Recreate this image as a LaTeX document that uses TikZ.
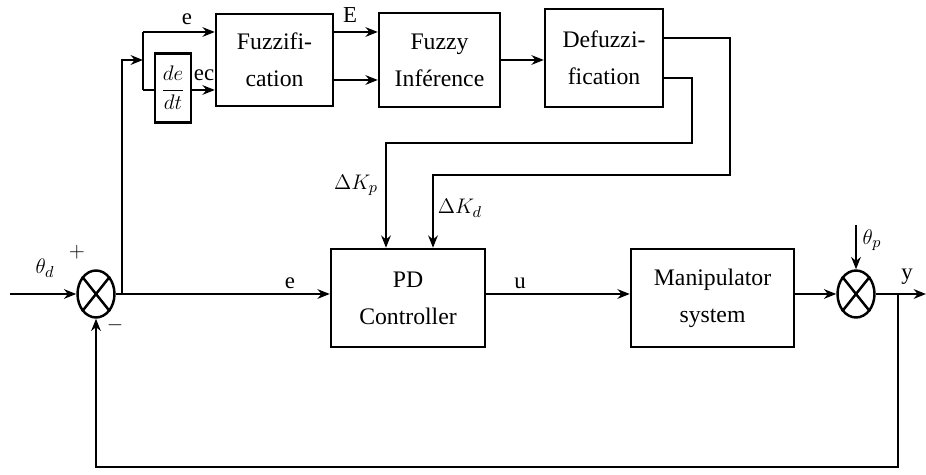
\documentclass[tikz,border=0pt]{standalone}
\usepackage{amsmath}
\usepackage{fontspec}
\setmainfont{Liberation Serif}
\usetikzlibrary{arrows.meta, positioning, shapes.geometric}

\begin{document}
\begin{tikzpicture}[
    x=0.02cm, y=-0.02cm,
    >={Stealth[length=7pt, width=5.5pt]},
    line width=1.4pt,
    block/.style={
      draw, line width=1.4pt, align=center,
      font=\rmfamily\fontsize{13.5}{21}\selectfont, inner sep=2pt
    },
    summer/.style={
      draw, ellipse, line width=1.4pt, inner sep=0pt,
      minimum width=0.74cm, minimum height=0.94cm
    },
    lbl/.style={font=\rmfamily\fontsize{13}{15}\selectfont, inner sep=1pt}
  ]
  \useasboundingbox (0,0) rectangle (926,475);

  % fuzzy part
  \node[block, minimum width=2.34cm, minimum height=1.84cm] (fuzz) at (274.5,60) {Fuzzifi-\\cation};
  \node[block, minimum width=0.72cm, minimum height=1.38cm, inner sep=0pt,
    font=\fontsize{11.5}{13}\selectfont] (ddt) at (173,88) {$\dfrac{de}{dt}$};
  \node[block, minimum width=2.42cm, minimum height=1.88cm] (inf) at (439.5,60) {Fuzzy\\Inf\'erence};
  \node[block, minimum width=2.36cm, minimum height=1.96cm] (defz) at (604,58) {Defuzzi-\\fication};

  % main loop
  \node[block, minimum width=3.08cm, minimum height=1.96cm] (pd) at (408,298) {PD\\Controller};
  \node[block, minimum width=3.26cm, minimum height=1.96cm] (man) at (712.5,298) {Manipulator\\system};
  \node[summer] (sum1) at (96,294) {};
  \node[summer] (sum2) at (856,294) {};
  \draw (sum1.north east) -- (sum1.south west) (sum1.north west) -- (sum1.south east);
  \draw (sum2.north east) -- (sum2.south west) (sum2.north west) -- (sum2.south east);

  \coordinate (in) at (10,294);
  \coordinate (out) at (926,294);
  \coordinate (tp) at (856,225);
  \coordinate (b1) at (122,294);
  \coordinate (b2) at (143,60);
  \coordinate (b3) at (143,32);
  \coordinate (b4) at (143,90);
  \coordinate (fb) at (898,294);

  \draw[->] (in) -- (sum1.west);
  \draw[->] (sum1.east) -- (pd.west |- sum1.east);
  \draw[->] (pd.east |- sum1.east) -- (man.west |- sum1.east);
  \draw[->] (man.east |- sum1.east) -- (sum2.west);
  \draw[->] (sum2.east) -- (out);
  \draw[->] (tp) -- (sum2.north);
  \draw[->] (fb) -- (898,467) -| (sum1.south);

  % error and derivative
  \draw[->] (b1) |- (b2);
  \draw (b3) -- (b4);
  \draw[->] (b3) -- (fuzz.west |- b3);
  \draw (b4) -- (ddt.west |- b4);
  \draw[->] (ddt.east |- b4) -- (fuzz.west |- b4);
  \draw[->] (fuzz.east |- b3) -- (inf.west |- b3);
  \draw[->] (fuzz.east |- 0,80) -- (inf.west |- 0,80);
  \draw[->] (inf.east |- 0,60) -- (defz.west |- 0,60);

  % gain corrections
  \draw[->] (defz.east |- 0,38) -| (730,175) -| (pd.north -| 433,0);
  \draw[->] (defz.east |- 0,78) -| (692,143) -| (pd.north -| 386,0);

  % labels
  \node[lbl] (lthd) at (45,268) {$\theta_d$};
  \node[lbl] (lplus) at (77,252) {$+$};
  \node[lbl] (lminus) at (115,325) {$-$};
  \node[lbl] (le1) at (187,19) {e};
  \node[lbl] (lec) at (204,75) {ec};
  \node[lbl] (lE) at (350,15) {E};
  \node[lbl] (le2) at (290,283) {e};
  \node[lbl] (lu) at (520,283) {u};
  \node[lbl] (lthp) at (872,240) {$\theta_p$};
  \node[lbl] (ly) at (907,277) {y};
  \node[lbl, font=\fontsize{13}{15}\selectfont] (lkp) at (356,185) {$\Delta K_p$};
  \node[lbl, font=\fontsize{13}{15}\selectfont] (lkd) at (460,208) {$\Delta K_d$};

\end{tikzpicture}
\end{document}
